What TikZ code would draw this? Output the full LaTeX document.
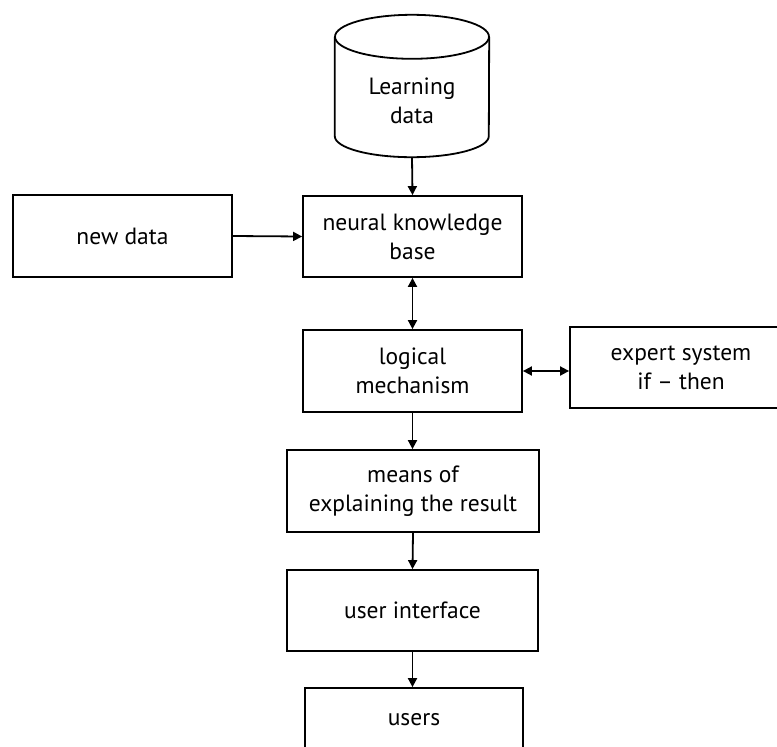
\documentclass[tikz,border=0pt]{standalone}
\usepackage{fontspec}
\setmainfont{PT Sans}
\usetikzlibrary{arrows.meta}
\begin{document}
\begin{tikzpicture}[x=1pt,y=-1pt,
  txt/.style={align=center, inner sep=0pt, font=\fontsize{23.5}{29}\selectfont},
  box/.style={txt, draw, line width=1.8pt},
  link/.style={line width=1.8pt, -{Triangle[length=9pt,width=9pt]}},
  dlink/.style={line width=1.8pt, {Triangle[length=9pt,width=9pt]}-{Triangle[length=9pt,width=9pt]}}]
\clip (0,0) rectangle (777,747);

% data store (cylinder drawn round an invisible node)
\node[txt, minimum width=154pt, minimum height=112pt] (learn) at (412,101) {Learning\\data};
\draw[line width=1.8pt] ([yshift=8pt]learn.north west) -- ([yshift=21pt]learn.south west)
  arc[start angle=180, end angle=360, x radius=77pt, y radius=21pt]
  -- ([yshift=8pt]learn.north east);
\draw[line width=1.8pt] ([yshift=8pt]learn.north) ellipse[x radius=77pt, y radius=22pt];

% boxes
\node[box, minimum width=219pt, minimum height=82pt] (new) at (122.5,236) {new data};
\node[box, minimum width=219pt, minimum height=81pt] (nkb) at (412.5,236.5) {neural knowledge\\base};
\node[box, minimum width=219pt, minimum height=82pt] (logic) at (412.5,371) {logical\\mechanism};
\node[box, minimum width=222pt, minimum height=81pt] (expert) at (681,367.5) {expert system\\if -- then};
\node[box, minimum width=252pt, minimum height=82pt] (means) at (413,491) {means of\\explaining the result};
\node[box, minimum width=251pt, minimum height=81pt] (ui) at (412.5,610.5) {user interface};
\node[box, minimum width=218pt, minimum height=64pt] (users) at (414,720) {users};

% connectors
\draw[link] (learn.south) -- (nkb.north);
\draw[link] (new.east) -- (nkb.west);
\draw[dlink] (nkb.south) -- (logic.north);
\draw[dlink] (logic.east) -- (logic.east -| expert.west);
\draw[link] (logic.south) -- (logic.south |- means.north);
\draw[link] (means.south) -- (ui.north);
\draw[link] (ui.south) -- (ui.south |- users.north);
\end{tikzpicture}
\end{document}
